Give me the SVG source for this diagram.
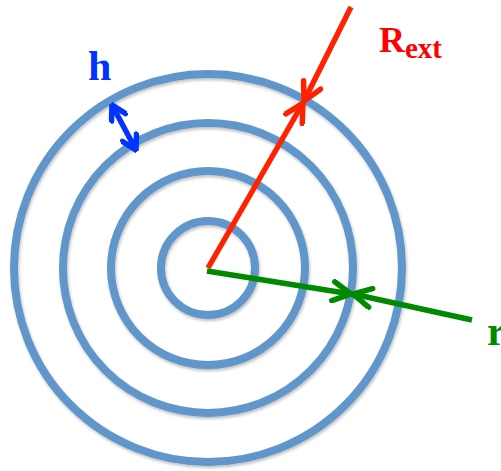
<svg xmlns="http://www.w3.org/2000/svg" width="501" height="471" viewBox="0 0 501 471">
<style>
.ring{fill:none;stroke:#6196CA;stroke-width:8}
.red{stroke:#FF2200;stroke-width:5.5;fill:none}
.grn{stroke:#008A00;stroke-width:5.5;fill:none}
.blu{stroke:#0033FF;stroke-width:5.5;fill:none}
.lbl{font-family:"Liberation Serif","Times New Roman",serif;font-weight:bold}
</style>
<defs>
<filter id="sh" x="-10%" y="-10%" width="120%" height="120%">
<feDropShadow dx="1" dy="2" stdDeviation="1.5" flood-color="#000" flood-opacity="0.25"/>
</filter>
<marker id="mr" viewBox="-22 -12 24 24" markerWidth="24" markerHeight="24" refX="0" refY="0" orient="auto-start-reverse" markerUnits="userSpaceOnUse">
<path d="M-18,-9.5 L0,0 L-18,9.5" fill="none" stroke="#FF2200" stroke-width="5.5" stroke-linecap="round"/>
</marker>
<marker id="mg" viewBox="-22 -12 24 24" markerWidth="24" markerHeight="24" refX="0" refY="0" orient="auto-start-reverse" markerUnits="userSpaceOnUse">
<path d="M-18,-9.5 L0,0 L-18,9.5" fill="none" stroke="#008A00" stroke-width="5.5" stroke-linecap="round"/>
</marker>
<marker id="mb" viewBox="-18 -10 20 20" markerWidth="20" markerHeight="20" refX="0" refY="0" orient="auto-start-reverse" markerUnits="userSpaceOnUse">
<path d="M-14,-8 L0,0 L-14,8" fill="none" stroke="#0033FF" stroke-width="5.5" stroke-linecap="round"/>
</marker>
</defs>
<g id="rings" filter="url(#sh)">
<circle id="ring4" class="ring" cx="208" cy="268" r="194"/>
<circle id="ring3" class="ring" cx="208" cy="268" r="145"/>
<circle id="ring2" class="ring" cx="208" cy="268" r="97"/>
<circle id="ring1" class="ring" cx="208" cy="268" r="47"/>
</g>
<g id="connectors">
<line class="red" x1="208" y1="268" x2="303" y2="103" marker-end="url(#mr)"/>
<line class="red" x1="351" y1="7" x2="304" y2="101" marker-end="url(#mr)"/>
<line class="grn" x1="207" y1="271" x2="351" y2="294" marker-end="url(#mg)"/>
<line class="grn" x1="472" y1="320" x2="353" y2="294" marker-end="url(#mg)"/>
<line class="blu" x1="112" y1="105" x2="136" y2="150" marker-start="url(#mb)" marker-end="url(#mb)"/>
</g>
<g id="labels">
<text class="lbl" x="88" y="80" font-size="42" fill="#0033FF">h</text>
<text class="lbl" x="379" y="52" font-size="36" fill="#FF0000">R<tspan font-size="29" dy="6">ext</tspan></text>
<text class="lbl" x="487" y="345" font-size="42" fill="#008A00">r</text>
</g>
</svg>
